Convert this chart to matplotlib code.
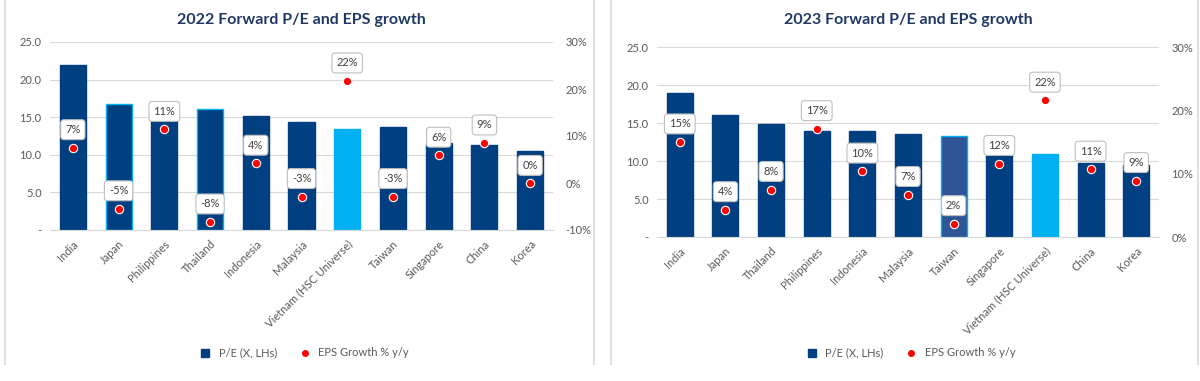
import matplotlib.pyplot as plt
from matplotlib.lines import Line2D

plt.rcParams['font.family'] = ['Lato', 'DejaVu Sans']

# 2022 chart data
countries_22 = ["India", "Japan", "Philippines", "Thailand", "Indonesia", "Malaysia",
                "Vietnam (HSC Universe)", "Taiwan", "Singapore", "China", "Korea"]
pe_22 = [22.0, 16.8, 14.6, 16.1, 15.2, 14.4, 13.4, 13.7, 11.6, 11.3, 10.5]
eps_22 = [7.5, -5.5, 11.4, -8.3, 4.2, -2.9, 21.7, -2.9, 5.9, 8.5, -0.1]
eps_lbl_22 = ["7%", "-5%", "11%", "-8%", "4%", "-3%", "22%", "-3%", "6%", "9%", "0%"]

# 2023 chart data
countries_23 = ["India", "Japan", "Thailand", "Philippines", "Indonesia", "Malaysia",
                "Taiwan", "Singapore", "Vietnam (HSC Universe)", "China", "Korea"]
pe_23 = [19.0, 16.0, 14.9, 13.9, 13.9, 13.6, 13.3, 10.9, 10.9, 9.7, 9.5]
eps_23 = [15.0, 4.3, 7.5, 17.1, 10.4, 6.7, 2.1, 11.6, 21.6, 10.7, 8.9]
eps_lbl_23 = ["15%", "4%", "8%", "17%", "10%", "7%", "2%", "12%", "22%", "11%", "9%"]

NAVY = "#004080"
CYAN = "#00B0F0"
TITLE_C = "#1F3864"
GREY_TXT = "#595959"
GRID = "#D9D9D9"


def bar_style(names, special_edge, special_face):
    faces, edges = [], []
    for n in names:
        if n.startswith("Vietnam"):
            faces.append(CYAN)
            edges.append(CYAN)
        elif n in special_face:
            faces.append(special_face[n])
            edges.append(CYAN)
        elif n in special_edge:
            faces.append(NAVY)
            edges.append(CYAN)
        else:
            faces.append(NAVY)
            edges.append(NAVY)
    return faces, edges


def draw_chart(fig, rect, title, title_y, names, pe, eps, labels, eps_lim, eps_ticks,
               faces, edges, legend_y):
    ax = fig.add_axes(rect)
    x = range(len(names))
    ax.bar(x, pe, width=0.57, color=faces, edgecolor=edges, linewidth=1.0, zorder=2)
    ax.set_ylim(0, 25)
    ax.set_yticks([0, 5, 10, 15, 20, 25])
    ax.set_yticklabels(["-", "5.0", "10.0", "15.0", "20.0", "25.0"])
    ax.yaxis.grid(True, color=GRID, linewidth=0.8, zorder=0)
    ax.set_axisbelow(True)
    ax.set_xlim(-0.5, len(names) - 0.5)
    ax.set_xticks(list(x))
    ax.set_xticklabels(names, rotation=45, ha="right", rotation_mode="anchor",
                       fontsize=8, color=GREY_TXT)
    ax.tick_params(axis="both", length=0, labelsize=8, labelcolor=GREY_TXT, pad=6)
    for s in ["top", "left", "right"]:
        ax.spines[s].set_visible(False)
    ax.spines["bottom"].set_color(GRID)

    ax2 = ax.twinx()
    ax2.scatter(x, eps, s=36, color="#FF0000", edgecolor="white", linewidth=0.8, zorder=4)
    ax2.set_ylim(*eps_lim)
    ax2.set_yticks(eps_ticks)
    ax2.set_yticklabels([f"{t}%" for t in eps_ticks])
    ax2.tick_params(axis="y", length=0, labelsize=8, labelcolor=GREY_TXT, pad=9)
    for s in ax2.spines.values():
        s.set_visible(False)
    for xi, yi, lb in zip(x, eps, labels):
        ax2.annotate(lb, (xi, yi), xytext=(0, 13), textcoords="offset points",
                     ha="center", va="center", fontsize=8, color="#404040", zorder=5,
                     bbox=dict(boxstyle="round,pad=0.4,rounding_size=0.3", fc="white",
                               ec="#BFBFBF", lw=0.8))

    cx = rect[0] + rect[2] / 2
    fig.text(cx, title_y, title, ha="center", va="center", fontsize=11.5,
             fontweight="bold", color=TITLE_C)

    handles = [Line2D([], [], marker="s", linestyle="none", color=NAVY, markersize=5.5),
               Line2D([], [], marker="o", linestyle="none", color="#FF0000", markersize=4)]
    fig.legend(handles, ["P/E (X, LHs)", "EPS Growth % y/y"], loc="center",
               bbox_to_anchor=(cx, legend_y), ncol=2, frameon=False, fontsize=8,
               handletextpad=0.2, columnspacing=1.5, labelcolor=GREY_TXT)
    return ax


W, H = 1200, 381
fig = plt.figure(figsize=(W / 100, H / 100), dpi=100)

# panel side borders
for px in [5, 594, 611, 1198]:
    fig.add_artist(Line2D([px / W, px / W], [1 - 364 / H, 1.0], transform=fig.transFigure,
                          color="#E0E0E0", linewidth=1.5))

f22, e22 = bar_style(countries_22, {"Japan", "Thailand"}, {})
draw_chart(fig, [50 / W, 1 - 230 / H, 503 / W, 188 / H], "2022 Forward P/E and EPS growth",
           1 - 20 / H, countries_22, pe_22, eps_22, eps_lbl_22, (-10, 30), [-10, 0, 10, 20, 30],
           f22, e22, 1 - 353 / H)

f23, e23 = bar_style(countries_23, set(), {"Taiwan": "#2F5597"})
draw_chart(fig, [657 / W, 1 - 237 / H, 502 / W, 190 / H], "2023 Forward P/E and EPS growth",
           1 - 20 / H, countries_23, pe_23, eps_23, eps_lbl_23, (0, 30), [0, 10, 20, 30],
           f23, e23, 1 - 353 / H)

fig.savefig("out.png", dpi=100)
